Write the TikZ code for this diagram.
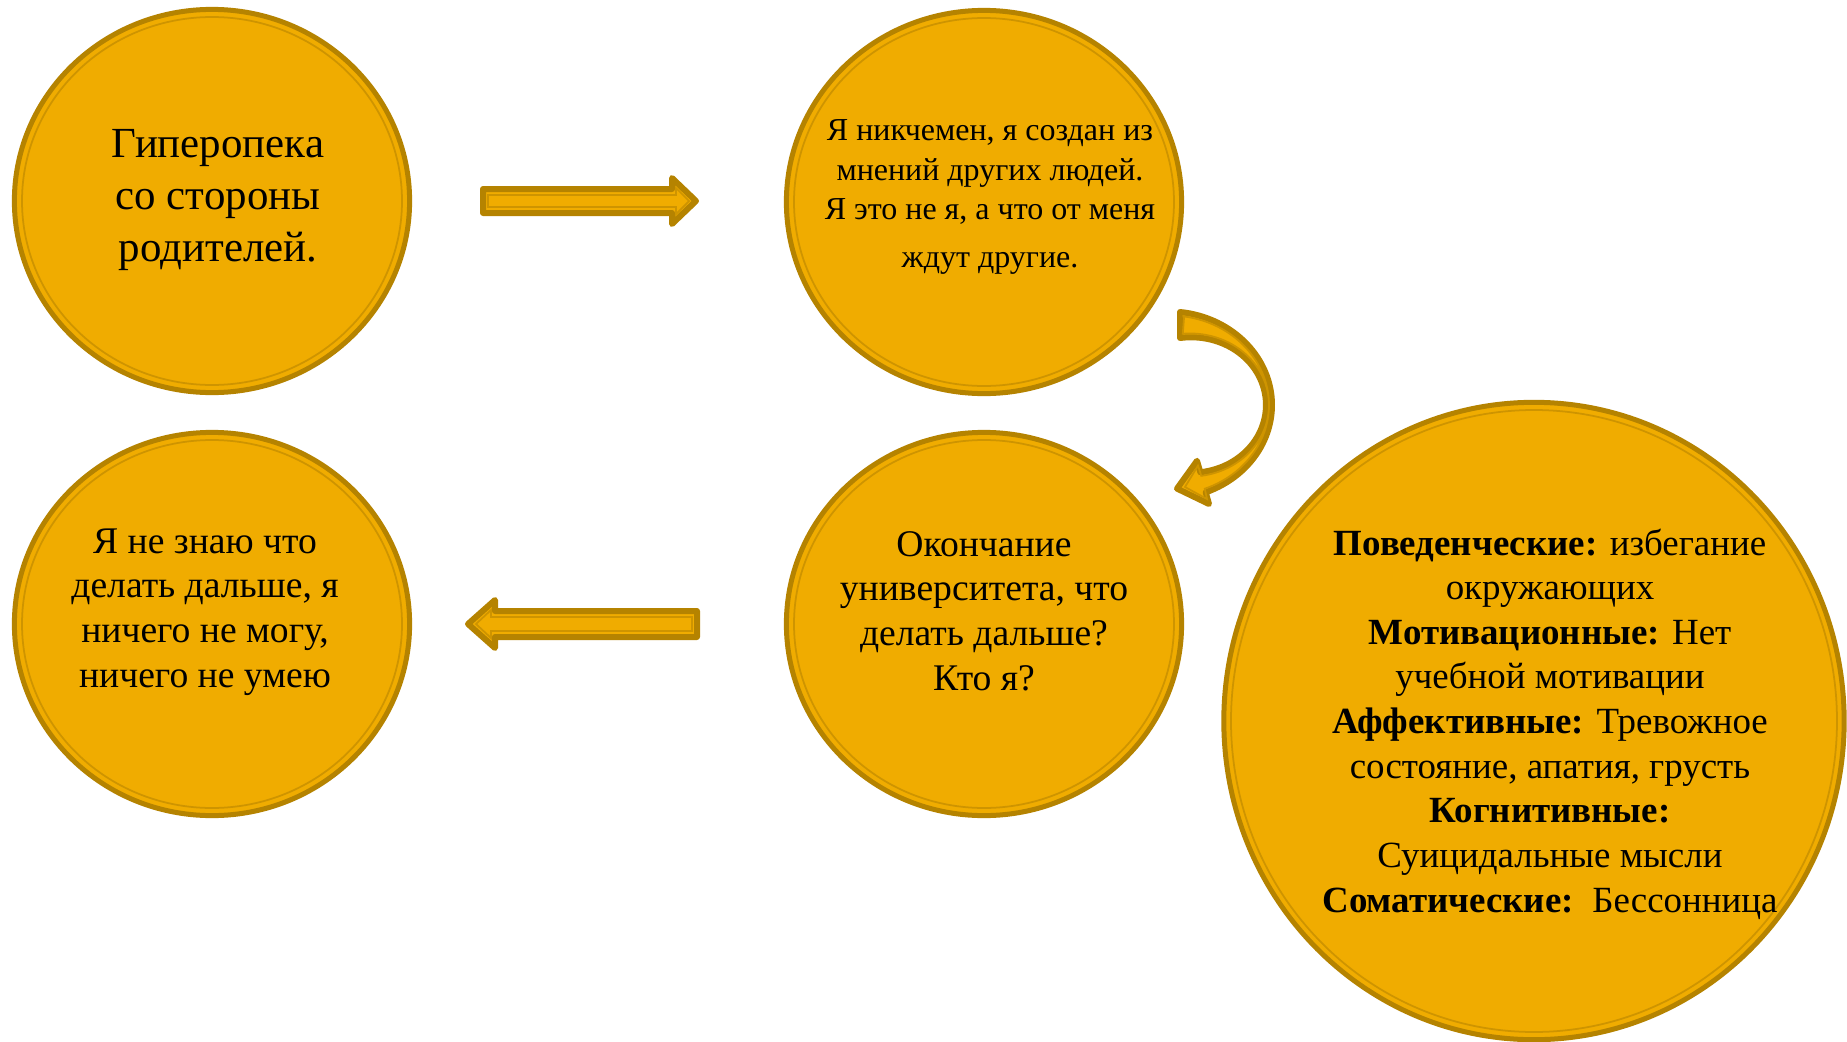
\documentclass[tikz,border=0pt]{standalone}
\usepackage{fontspec}
\setmainfont{Liberation Serif}
\usepackage{tikz}
\usetikzlibrary{shapes.geometric}

\definecolor{goldfill}{RGB}{240,172,0}
\definecolor{goldedge}{RGB}{181,131,0}
\definecolor{goldrim}{RGB}{206,148,0}

\begin{document}
\begin{tikzpicture}[x=0.01cm,y=-0.01cm,
	coin/.style={ellipse,draw=goldedge,line width=0.05cm,fill=goldfill,inner sep=0pt,minimum width=3.95cm,minimum height=3.83cm},
	rim/.style={draw=goldrim,line width=0.5pt},
	blockarrow/.style={draw=goldedge,fill=goldfill,line width=0.06cm,line join=round},
	say/.style={align=center,inner sep=0pt}]
	\useasboundingbox (0,0) rectangle (1847,1042);
	\clip (0,0) rectangle (1847,1042);
	\node[coin] (hyper) at (212,201) {};
	\node[coin] (worth) at (984,202) {};
	\node[coin] (lost) at (212,624) {};
	\node[coin] (grad) at (984,624) {};
	\node[coin,minimum width=6.2cm,minimum height=6.37cm] (signs) at (1534,721) {};
	\foreach \n in {hyper,worth,lost,grad}
		\draw[rim] (\n.center) ellipse[x radius=190,y radius=184];
	\draw[rim] (signs.center) ellipse[x radius=303,y radius=311];
	\node[say,font=\fontsize{12.2}{14.8}\selectfont] (hypertext) at (218,200) {Гиперопека\\со стороны\\родителей.};
	\node[say,font=\fontsize{9.1}{11.1}\selectfont] (worthtext) at (990,197) {Я никчемен, я создан из\\мнений других людей.\\Я это не я, а что от меня\\[0.09cm]ждут другие.};
	\node[say,font=\fontsize{10.7}{12.7}\selectfont] (losttext) at (205,612) {Я не знаю что\\делать дальше, я\\ничего не могу,\\ничего не умею};
	\node[say,font=\fontsize{10.7}{12.7}\selectfont] (gradtext) at (984,611) {Окончание\\университета, что\\делать дальше?\\Кто я?};
	\node[say,font=\fontsize{10.5}{12.7}\selectfont] (signstext) at (1550,724) {\textbf{Поведенческие:} избегание\\окружающих\\\textbf{Мотивационные:} Нет\\учебной мотивации\\\textbf{Аффективные:} Тревожное\\состояние, апатия, грусть\\\textbf{Когнитивные:}\\Суицидальные мысли\\\textbf{Соматические:}\ \ Бессонница};
	% straight arrows
	\draw[blockarrow] (483,189) -- (672,189) -- (672,178) -- (696,201) -- (672,224) -- (672,213) -- (483,213) -- cycle;
	\draw[rim] (488,195) -- (676,195) -- (676,188) -- (689,201) -- (676,214) -- (676,207) -- (488,207) -- cycle;
	\draw[blockarrow] (697,611) -- (495,611) -- (495,600) -- (468,624) -- (495,648) -- (495,637) -- (697,637) -- cycle;
	\draw[rim] (692,617) -- (491,617) -- (491,610) -- (476,624) -- (491,638) -- (491,631) -- (692,631) -- cycle;
	% curved arrow
	\draw[blockarrow] (1180,312) -- plot[domain=90:-75,samples=60] ({1180+(89+13-10*cos(\x))*cos(\x)},{405-(80+13-10*cos(\x))*sin(\x)})
		-- (1209,504) -- (1177,488.6) -- (1197,460.8)
		-- plot[domain=-75:90,samples=60] ({1180+(89-13+10*cos(\x))*cos(\x)},{405-(80-13+10*cos(\x))*sin(\x)}) -- cycle;
	\draw[rim] (1184,318) -- plot[domain=88:-75,samples=60] ({1180+(89+9-9*cos(\x))*cos(\x)},{405-(80+9-9*cos(\x))*sin(\x)})
		-- (1207,499) -- (1185,487) -- (1198,465.6)
		-- plot[domain=-75:88,samples=60] ({1180+(89-9+9*cos(\x))*cos(\x)},{405-(80-9+9*cos(\x))*sin(\x)}) -- cycle;
\end{tikzpicture}
\end{document}
